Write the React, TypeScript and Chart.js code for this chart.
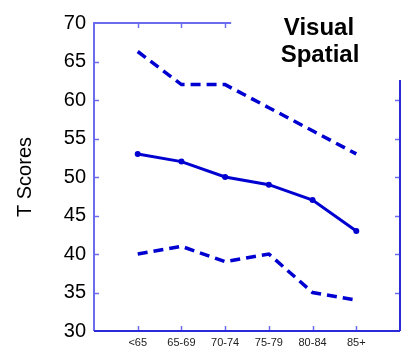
import React, { useEffect, useRef } from 'react';
import { Chart, registerables } from 'chart.js';

Chart.register(...registerables);

const categories = ['<65', '65-69', '70-74', '75-79', '80-84', '85+'];
const meanScores = [53, 52, 50, 49, 47, 43];
const upperScores = [66.3, 62, 62, 59, 56, 53];
const lowerScores = [40, 41, 39, 40, 35, 34];
const yMin = 30;
const yMax = 70;
const yStep = 5;
const titleLines = ['Visual', 'Spatial'];
const axisTitle = 'T Scores';

const LINE = '#0000d0';
const FRAME_LIGHT = '#6c6cf0';
const FRAME_DARK = '#2a2ad8';
const FONT = '"Liberation Sans", Arial, sans-serif';

const framePlugin = {
  id: 'frame',
  afterDraw(chart: any) {
    const { ctx, chartArea: a, scales } = chart;
    const x = scales.x;
    const y = scales.y;
    ctx.save();
    ctx.lineCap = 'butt';
    ctx.strokeStyle = FRAME_LIGHT;
    ctx.lineWidth = 1.5;
    const tl = 5;
    for (let i = 1; i <= categories.length; i++) {
      const px = Math.round(x.getPixelForValue(i)) + 0.5;
      ctx.beginPath();
      ctx.moveTo(px, a.bottom);
      ctx.lineTo(px, a.bottom - tl);
      ctx.stroke();
      if (i <= 3) {
        ctx.beginPath();
        ctx.moveTo(px, a.top);
        ctx.lineTo(px, a.top + tl);
        ctx.stroke();
      }
    }
    const rightTop = y.getPixelForValue(62.6);
    for (let v = yMin + yStep; v < yMax; v += yStep) {
      const py = Math.round(y.getPixelForValue(v)) + 0.5;
      ctx.beginPath();
      ctx.moveTo(a.left, py);
      ctx.lineTo(a.left + tl, py);
      ctx.stroke();
      if (py > rightTop) {
        ctx.beginPath();
        ctx.moveTo(a.right, py);
        ctx.lineTo(a.right - tl, py);
        ctx.stroke();
      }
    }
    ctx.lineWidth = 2;
    ctx.strokeStyle = FRAME_LIGHT;
    const topEnd = x.getPixelForValue(3) + 6;
    ctx.beginPath();
    ctx.moveTo(a.left, a.bottom);
    ctx.lineTo(a.left, a.top);
    ctx.lineTo(topEnd, a.top);
    ctx.stroke();
    ctx.strokeStyle = FRAME_DARK;
    ctx.beginPath();
    ctx.moveTo(a.right, rightTop);
    ctx.lineTo(a.right, a.bottom);
    ctx.stroke();
    ctx.beginPath();
    ctx.moveTo(a.left, a.bottom);
    ctx.lineTo(a.right, a.bottom);
    ctx.stroke();
    ctx.fillStyle = '#000';
    ctx.font = `bold 24px ${FONT}`;
    ctx.textAlign = 'center';
    ctx.textBaseline = 'alphabetic';
    const cx = a.right - 81;
    ctx.fillText(titleLines[0], cx, 35);
    ctx.fillText(titleLines[1], cx + 1, 62);
    ctx.restore();
  },
};

export default function App() {
  const ref = useRef<HTMLCanvasElement | null>(null);
  useEffect(() => {
    if (!ref.current) return;
    const labels = ['', ...categories, ''];
    const pad = (arr: number[]) => [null, ...arr, null];
    const chart = new Chart(ref.current, {
      type: 'line',
      data: {
        labels,
        datasets: [
          {
            data: pad(upperScores),
            borderColor: LINE,
            borderWidth: 3.5,
            borderDash: [10, 6],
            pointRadius: 0,
            tension: 0,
            fill: false,
          },
          {
            data: pad(meanScores),
            borderColor: LINE,
            backgroundColor: LINE,
            borderWidth: 3,
            pointRadius: 3,
            pointBorderWidth: 0,
            tension: 0,
            fill: false,
          },
          {
            data: pad(lowerScores),
            borderColor: LINE,
            borderWidth: 3.5,
            borderDash: [10, 6],
            pointRadius: 0,
            tension: 0,
            fill: false,
          },
        ],
      },
      options: {
        animation: false,
        responsive: false,
        devicePixelRatio: 1,
        layout: { padding: { top: 23, right: 3, left: 0, bottom: 0 } },
        plugins: {
          legend: { display: false },
          tooltip: { enabled: false },
          title: { display: false },
        },
        scales: {
          x: {
            type: 'category',
            offset: false,
            grid: { display: false, drawTicks: false },
            border: { display: false },
            ticks: {
              autoSkip: false,
              maxRotation: 0,
              minRotation: 0,
              padding: 5,
              color: '#222',
              font: { family: FONT, size: 11 },
            },
            afterFit: (s: any) => {
              s.height = 30;
            },
          },
          y: {
            min: yMin,
            max: yMax,
            grid: { display: false, drawTicks: false },
            border: { display: false },
            ticks: {
              stepSize: yStep,
              padding: 8,
              color: '#000',
              font: { family: FONT, size: 20 },
            },
            title: {
              display: true,
              text: axisTitle,
              color: '#000',
              font: { family: FONT, size: 20, weight: 'normal' },
              padding: { top: 13, bottom: 0 },
            },
            afterFit: (s: any) => {
              s.width = 94;
            },
          },
        },
      },
      plugins: [framePlugin],
    } as any);
    return () => chart.destroy();
  }, []);
  return (
    <div style={{ position: 'absolute', left: 0, top: 0, width: 405, height: 361, background: '#fff' }}>
      <canvas ref={ref} width={405} height={361} style={{ display: 'block' }} />
    </div>
  );
}
